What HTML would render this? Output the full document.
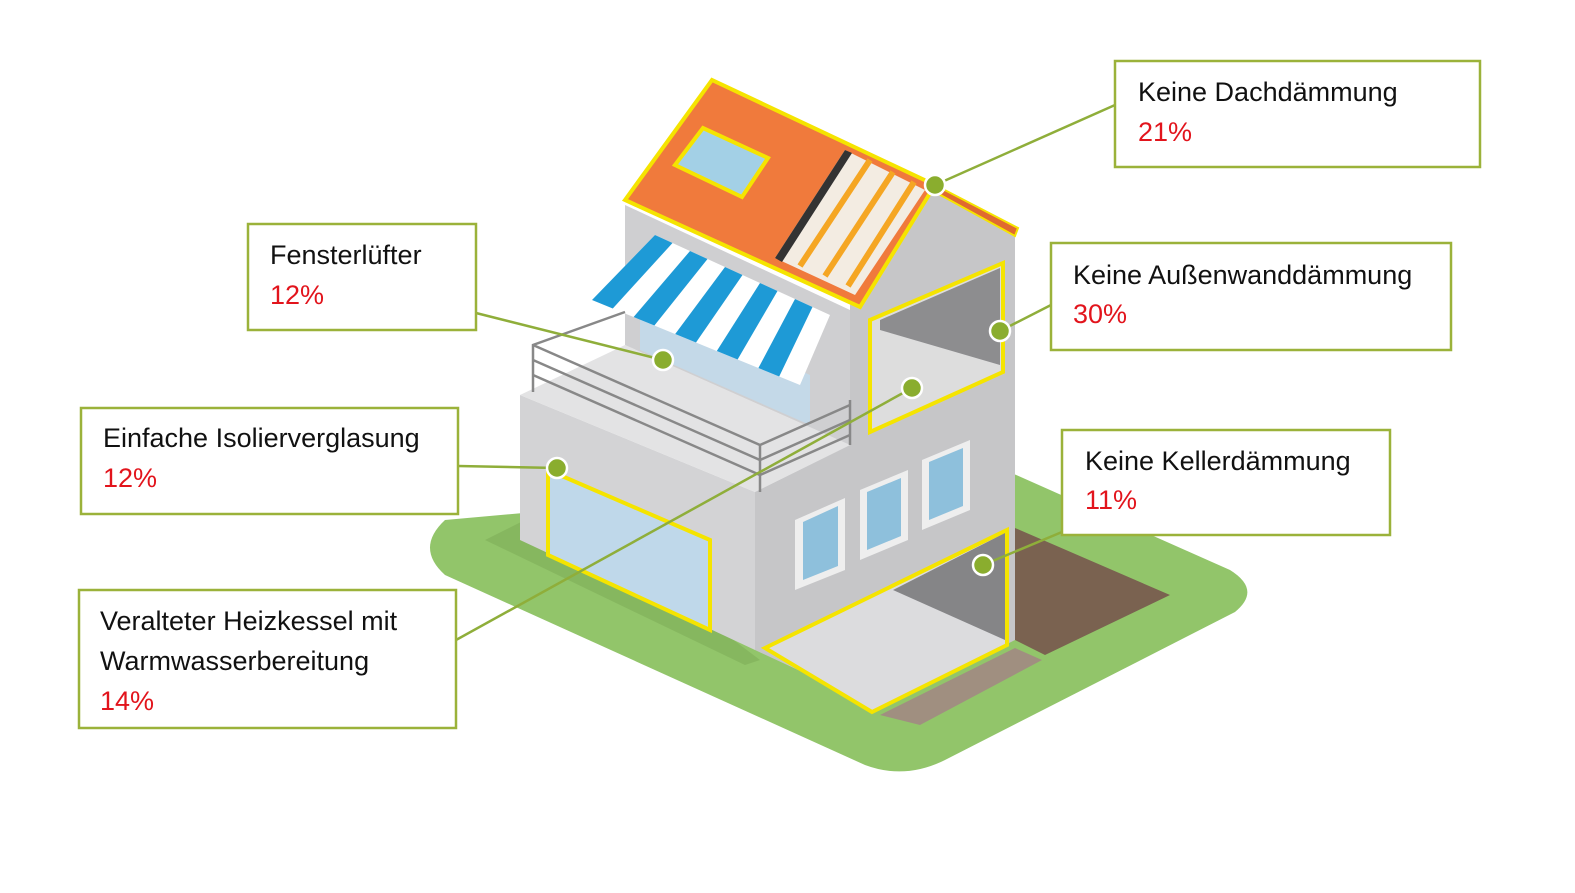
<!DOCTYPE html>
<html><head><meta charset="utf-8"><style>
html,body{margin:0;padding:0;background:#fff;}
svg{display:block}
text{font-family:"Liberation Sans",sans-serif;font-size:27px}
.k{fill:#111}.r{fill:#e2141c}
</style></head><body>
<svg width="1575" height="893" viewBox="0 0 1575 893" xmlns="http://www.w3.org/2000/svg">
<!-- grass -->
<path d="M445,520 L1005,470 L1230,570 Q1262,590 1235,612 L945,760 Q905,780 865,765 L445,575 Q415,548 445,520 Z" fill="#92c56a"/>
<polygon points="485,540 555,505 760,660 745,665" fill="#7fae59" opacity="0.6"/>
<!-- soil -->
<polygon points="1015,528 1170,595 1045,655 1015,640" fill="#7a6250"/>
<polygon points="880,715 1015,648 1042,660 920,725" fill="#a08f80"/>
<!-- lower left face -->
<polygon points="520,395 755,492 755,650 520,540" fill="#d3d3d5"/>
<!-- lower top (balcony floor) -->
<polygon points="520,395 625,345 850,445 755,492" fill="#e3e3e4"/>
<!-- right face -->
<polygon points="850,305 935,185 1015,228 1015,640 880,708 755,650 755,492 850,445" fill="#c6c6c8"/>
<!-- upper left face -->
<polygon points="625,205 850,310 850,445 625,345" fill="#cfcfd1"/>
<polygon points="640,300 810,375 810,425 640,350" fill="#c4d9e8"/>
<!-- roof -->
<polygon points="625,200 712,80 935,185 860,307" fill="#f07a3c" stroke="#f5e400" stroke-width="4"/>
<polygon points="935,185 1018,228 1015,236 935,192" fill="#e06a30" stroke="#f5e400" stroke-width="2"/>
<polygon points="675,165 703,128 768,158 742,197" fill="#a3d0e6" stroke="#f5e400" stroke-width="4"/>
<polygon points="775,258 845,150 925,190 855,295" fill="#f3ece2"/>
<polygon points="775,258 845,150 852,153 782,262" fill="#333"/>
<line x1="800" y1="266" x2="870" y2="160" stroke="#f5a623" stroke-width="6"/>
<line x1="825" y1="276" x2="893" y2="172" stroke="#f5a623" stroke-width="6"/>
<line x1="848" y1="286" x2="914" y2="182" stroke="#f5a623" stroke-width="6"/>
<!-- awning -->
<polygon points="592,300 655,235 830,315 800,385" fill="#fff"/>
<g fill="#1e9ad6">
<polygon points="655,235 672.5,243 612.8,308.5 592,300"/>
<polygon points="690,251 707.5,259 654.4,325.5 633.6,317"/>
<polygon points="725,267 742.5,275 696,342.5 675.2,334"/>
<polygon points="760,283 777.5,291 737.6,359.5 716.8,351"/>
<polygon points="795,299 812.5,307 779.2,376.5 758.4,368"/>
</g>
<!-- railing -->
<g stroke="#888" stroke-width="2.5" fill="none">
<polyline points="533,392 533,345 625,312"/>
<polyline points="533,360 760,460 850,420"/>
<polyline points="533,375 760,475 850,435"/>
<polyline points="533,345 760,445 850,405"/>
<line x1="760" y1="445" x2="760" y2="492"/>
<line x1="850" y1="400" x2="850" y2="445"/>
</g>
<!-- big window -->
<polygon points="548,470 710,540 710,630 548,555" fill="#bfd8ea" stroke="#f5e400" stroke-width="4"/>
<!-- small windows -->
<g fill="#eee"><polygon points="795,520 845,498 845,570 795,590"/><polygon points="860,490 908,470 908,540 860,560"/><polygon points="922,460 970,440 970,510 922,530"/></g>
<g fill="#8ec0dc"><polygon points="803,522 838,506 838,566 803,580"/><polygon points="867,492 901,478 901,536 867,550"/><polygon points="929,462 963,448 963,506 929,520"/></g>
<!-- upper opening -->
<polygon points="870,320 1003,263 1003,372 870,432" fill="#ddd" stroke="#f5e400" stroke-width="4"/>
<polygon points="880,320 1000,268 1000,365 880,330" fill="#8d8d8f"/>
<!-- basement -->
<polygon points="765,648 1007,530 1007,645 872,712" fill="#dcdcde" stroke="#f5e400" stroke-width="4"/>
<polygon points="893,590 1005,533 1005,640" fill="#858587"/>
<!-- connectors -->
<g stroke="#8fae3a" stroke-width="2.5">
<line x1="935" y1="185" x2="1115" y2="105"/>
<line x1="476" y1="313" x2="663" y2="360"/>
<line x1="1000" y1="331" x2="1051" y2="305"/>
<line x1="458" y1="466" x2="557" y2="468"/>
<line x1="456" y1="640" x2="912" y2="388"/>
<line x1="983" y1="565" x2="1062" y2="532"/>
</g>
<g fill="#8aad2e" stroke="#fff" stroke-width="2.5">
<circle cx="935" cy="185" r="10"/><circle cx="663" cy="360" r="10"/><circle cx="1000" cy="331" r="10"/>
<circle cx="912" cy="388" r="10"/><circle cx="557" cy="468" r="10"/><circle cx="983" cy="565" r="10"/>
</g>
<!-- boxes -->
<g fill="#fff" stroke="#9bb23a" stroke-width="2.5">
<rect x="1115" y="61" width="365" height="106"/>
<rect x="248" y="224" width="228" height="106"/>
<rect x="1051" y="243" width="400" height="107"/>
<rect x="81" y="408" width="377" height="106"/>
<rect x="1062" y="430" width="328" height="105"/>
<rect x="79" y="590" width="377" height="138"/>
</g>
<text class="k" x="1138" y="101">Keine Dachdämmung</text><text class="r" x="1138" y="141">21%</text>
<text class="k" x="270" y="264">Fensterlüfter</text><text class="r" x="270" y="304">12%</text>
<text class="k" x="1073" y="284">Keine Außenwanddämmung</text><text class="r" x="1073" y="323">30%</text>
<text class="k" x="103" y="447">Einfache Isolierverglasung</text><text class="r" x="103" y="487">12%</text>
<text class="k" x="1085" y="470">Keine Kellerdämmung</text><text class="r" x="1085" y="509">11%</text>
<text class="k" x="100" y="630">Veralteter Heizkessel mit</text><text class="k" x="100" y="670">Warmwasserbereitung</text><text class="r" x="100" y="710">14%</text>
</svg>
</body></html>
